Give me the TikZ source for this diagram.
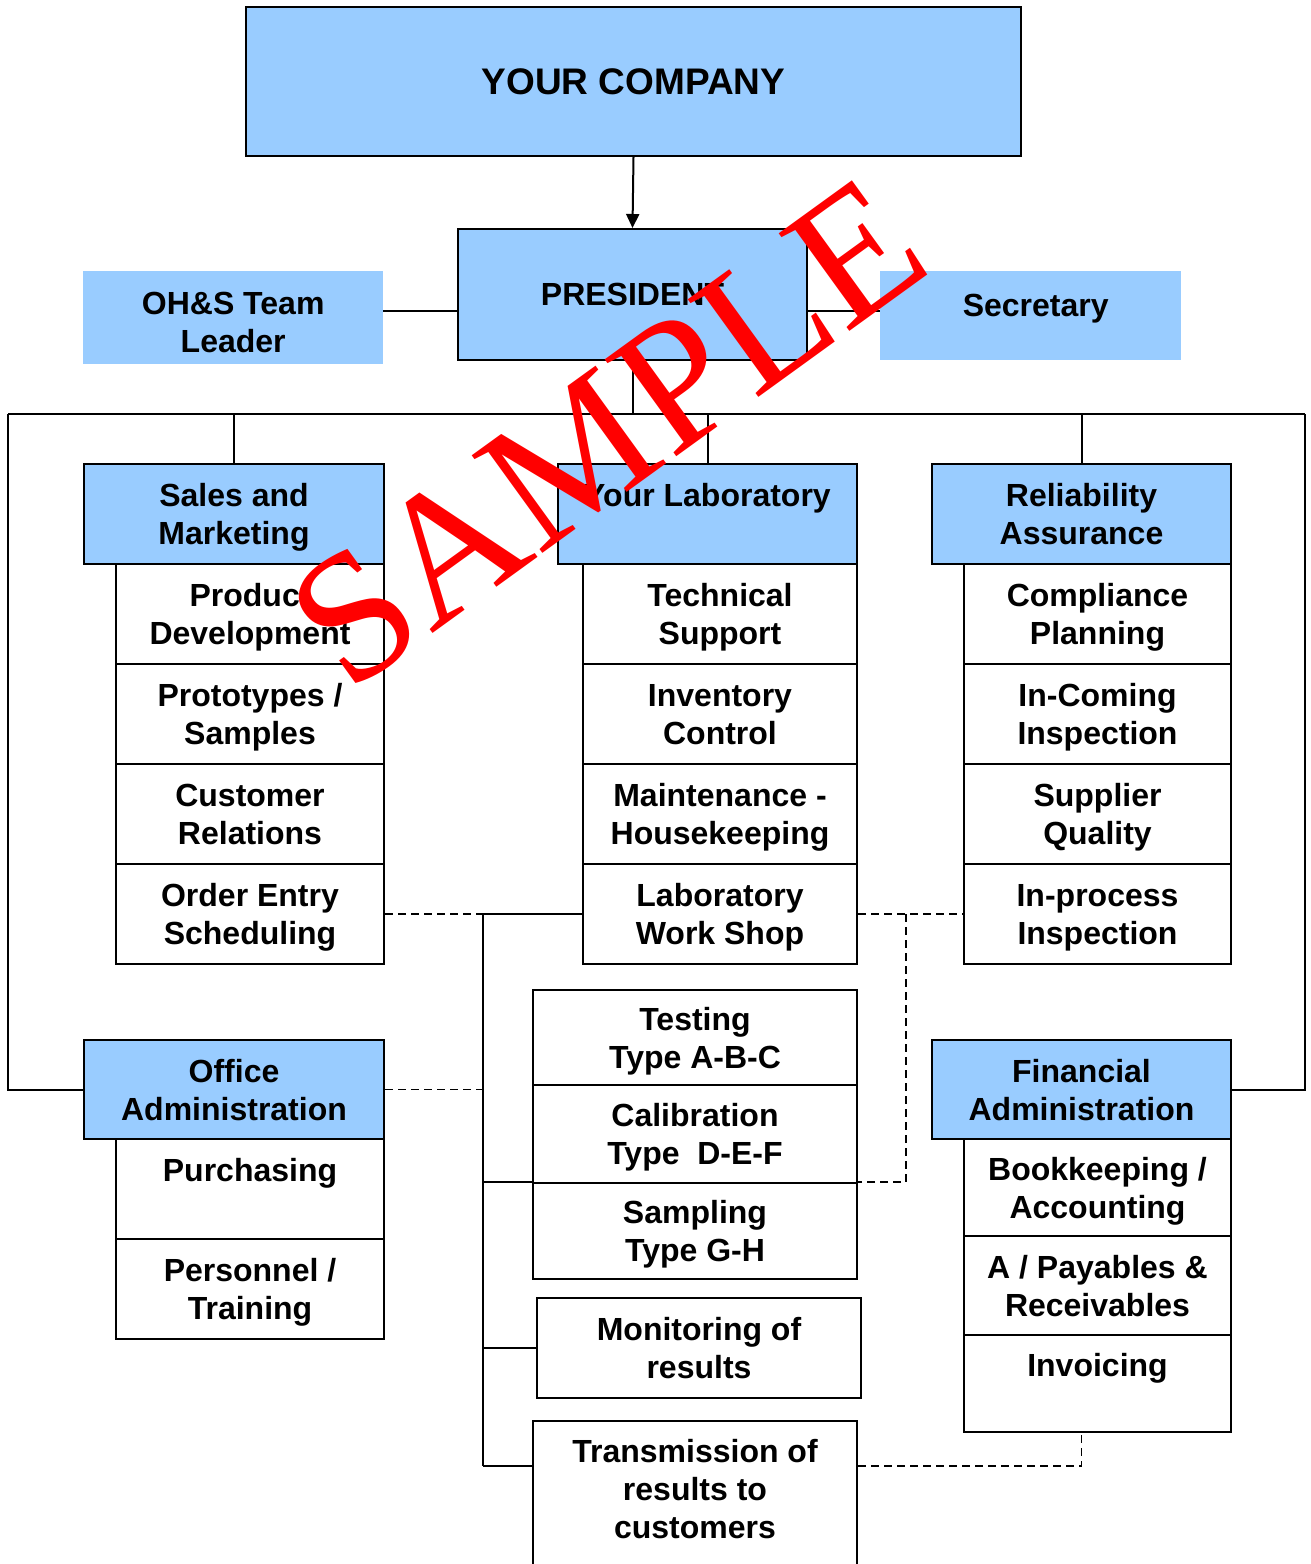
\documentclass[tikz,border=0pt]{standalone}
\usepackage{fontspec}
\setmainfont{Liberation Sans}
\newfontfamily\wmfont{Liberation Serif}
\usetikzlibrary{arrows.meta}
\definecolor{lblue}{RGB}{153,204,255}
\definecolor{wmred}{RGB}{255,0,0}
\begin{document}
\begin{tikzpicture}[x=1pt,y=-1pt,
  txt/.style={font=\fontsize{32}{38}\selectfont\bfseries, align=center, inner sep=0pt, text depth=0pt},
  box/.style={txt, draw=black, line width=2pt, fill=white, anchor=north west},
  hdr/.style={box, fill=lblue},
  flat/.style={txt, fill=lblue, anchor=north west},
  conn/.style={line width=2pt},
  dsh/.style={line width=1.6pt, dash pattern=on 8pt off 5pt},
]
\useasboundingbox (0,0) rectangle (1311,1564);
% top
\node[hdr, minimum width=775pt, minimum height=149pt, font=\fontsize{37}{44}\selectfont\bfseries] (comp) at (245,6) {YOUR COMPANY};
\node[hdr, minimum width=349pt, minimum height=131pt] (pres) at (457,228) {PRESIDENT};
\node[flat, minimum width=300pt, minimum height=93pt, text height=69pt] (ohs) at (83,271) {OH\&S Team\\Leader};
\node[flat, minimum width=301pt, minimum height=89pt] (sec) at (880,271) {\raisebox{21pt}{\hspace{10pt}Secretary}};
% column 1
\node[hdr, minimum width=300pt, minimum height=100pt] (sm) at (83,463) {Sales and\\Marketing};
\node[box, minimum width=268pt, minimum height=100pt] (pd) at (115,563) {Product\\Development};
\node[box, minimum width=268pt, minimum height=100pt] (pr) at (115,663) {Prototypes /\\Samples};
\node[box, minimum width=268pt, minimum height=100pt] (cr) at (115,763) {Customer\\Relations};
\node[box, minimum width=268pt, minimum height=100pt] (oes) at (115,863) {Order Entry\\Scheduling};
% column 2
\node[hdr, minimum width=299pt, minimum height=100pt] (lab) at (557,463) {Your Laboratory\\\strut};
\node[box, minimum width=274pt, minimum height=100pt] (ts) at (582,563) {Technical\\Support};
\node[box, minimum width=274pt, minimum height=100pt] (ic) at (582,663) {Inventory\\Control};
\node[box, minimum width=274pt, minimum height=100pt] (mh) at (582,763) {Maintenance -\\Housekeeping};
\node[box, minimum width=274pt, minimum height=100pt] (lws) at (582,863) {Laboratory\\Work Shop};
% column 3
\node[hdr, minimum width=299pt, minimum height=100pt] (ra) at (931,463) {Reliability\\Assurance};
\node[box, minimum width=267pt, minimum height=100pt] (cp) at (963,563) {Compliance\\Planning};
\node[box, minimum width=267pt, minimum height=100pt] (ici) at (963,663) {In-Coming\\Inspection};
\node[box, minimum width=267pt, minimum height=100pt] (sq) at (963,763) {Supplier\\Quality};
\node[box, minimum width=267pt, minimum height=100pt] (ipi) at (963,863) {In-process\\Inspection};
% office admin
\node[hdr, minimum width=300pt, minimum height=99pt] (oa) at (83,1039) {Office\\Administration};
\node[box, minimum width=268pt, minimum height=100pt] (pur) at (115,1138) {Purchasing\\\strut};
\node[box, minimum width=268pt, minimum height=100pt] (pt) at (115,1238) {Personnel /\\Training};
% financial admin
\node[hdr, minimum width=299pt, minimum height=99pt] (fa) at (931,1039) {Financial\\Administration};
\node[box, minimum width=267pt, minimum height=97pt] (bk) at (963,1138) {Bookkeeping /\\Accounting};
\node[box, minimum width=267pt, minimum height=99pt] (ap) at (963,1235) {A / Payables \&\\Receivables};
\node[box, minimum width=267pt, minimum height=97pt] (inv) at (963,1334) {Invoicing\\\strut};
% middle lower
\node[box, minimum width=324pt, minimum height=95pt] (test) at (532,989) {Testing\\Type A-B-C};
\node[box, minimum width=324pt, minimum height=98pt] (cal) at (532,1084) {Calibration\\Type~~D-E-F};
\node[box, minimum width=324pt, minimum height=96pt] (samp) at (532,1182) {Sampling\\Type G-H};
\node[box, minimum width=324pt, minimum height=100pt] (mon) at (536,1297) {Monitoring of\\results};
\node[box, minimum width=324pt, minimum height=174pt] (trans) at (532,1420) {Transmission of\\results to\\customers\\\strut};
% coordinates
\coordinate (bL) at (8,414);
\coordinate (bR) at (1305,414);
\coordinate (hy) at (0,311);
\coordinate (spT) at (483,914);
\coordinate (spB) at (483,1466);
\coordinate (dx) at (906,914);
% connectors
\draw[conn, -{Triangle[length=14pt,width=13pt]}] (comp.south) -- (pres.north);
\draw[conn] (ohs.east |- hy) -- (pres.west |- hy);
\draw[conn] (pres.east |- hy) -- (sec.west |- hy);
\draw[conn] (pres.south) -- (pres.south |- bL);
\draw[conn] (bL) -- (bR);
\draw[conn] (sm.north |- bL) -- (sm.north);
\draw[conn] (lab.north |- bL) -- (lab.north);
\draw[conn] (ra.north |- bL) -- (ra.north);
\draw[conn] (bL) |- (oa.west);
\draw[conn] (bR) |- (fa.east);
\draw[conn] (lws.west) -- (spT) -- (spB);
\draw[conn] (spT |- samp.north) -- (samp.north west);
\draw[conn] (spT |- mon.west) -- (mon.west);
\draw[conn] (spB) -- (spB -| trans.west);
\draw[dsh] (oes.east) -- (spT);
\draw[dsh] (oa.east) -- (oa.east -| spT);
\draw[dsh] (lws.east) -- (ipi.west);
\draw[dsh] (dx) |- (samp.north east);
\draw[dsh] (spB -| trans.east) -| (fa.south |- inv.south);
% watermark
\node[font=\wmfont\fontsize{184}{184}\selectfont, text=wmred, rotate=35.9, inner sep=0pt] (wm) at (607,433) {SAMPLE};
\end{tikzpicture}
\end{document}
